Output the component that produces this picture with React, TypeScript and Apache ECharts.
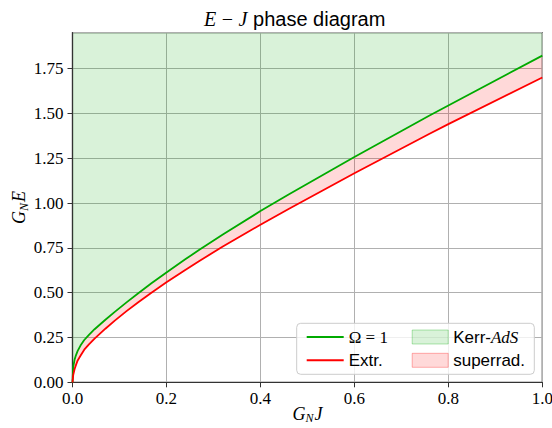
import React, { useEffect, useRef } from "react";
import * as echarts from "echarts";

// G_N J values (shared by both curves)
const J = [0, 0.0015, 0.0045, 0.0075, 0.011, 0.017, 0.025, 0.035, 0.047, 0.07, 0.09, 0.115, 0.14, 0.168, 0.2, 0.24, 0.27, 0.32, 0.4, 0.46, 0.6, 0.76, 0.8, 1.0];
// G_N E on the Omega = 1 curve
const omegaOne = [0, 0.085, 0.127, 0.152, 0.175, 0.205, 0.236, 0.265, 0.296, 0.349, 0.393, 0.446, 0.497, 0.552, 0.613, 0.686, 0.739, 0.824, 0.955, 1.048, 1.257, 1.488, 1.544, 1.822];
// G_N E on the extremal curve
const extremal = [0, 0.04, 0.074, 0.097, 0.122, 0.148, 0.182, 0.212, 0.244, 0.299, 0.344, 0.397, 0.447, 0.5, 0.558, 0.627, 0.677, 0.757, 0.879, 0.967, 1.166, 1.386, 1.44, 1.7];

const X_MIN = 0, X_MAX = 1, X_STEP = 0.2;
const Y_MIN = 0, Y_MAX = 1.95, Y_STEP = 0.25;

const SERIF = "Liberation Serif, Times New Roman, serif";
const SANS = "Liberation Sans, Arial, sans-serif";
const GREEN = "#00aa00";
const RED = "#ff0000";
const GREEN_FILL = "rgba(0,170,0,0.15)";
const RED_FILL = "rgba(255,0,0,0.15)";

export default function App() {
  const ref = useRef<HTMLDivElement>(null);
  useEffect(() => {
    const chart = echarts.init(ref.current!, null, { renderer: "svg" });
    const pts = (arr: number[]) => J.map((x, i) => [x, arr[i]]);
    const axisRich = {
      g: { fontFamily: SERIF, fontStyle: "italic", fontSize: 18, color: "#000" },
      n: { fontFamily: SERIF, fontStyle: "italic", fontSize: 12, color: "#000", padding: [9, 1, 0, 0] },
    };
    const option: any = {
      animation: false,
      backgroundColor: "#fff",
      textStyle: { fontFamily: SERIF },
      title: {
        text: "{m|E} {o|−} {m|J} {s|phase diagram}",
        left: 199,
        top: 4,
        textStyle: {
          fontSize: 20,
          fontWeight: "normal",
          fontFamily: SANS,
          rich: {
            m: { fontFamily: SERIF, fontStyle: "italic", fontWeight: "normal", fontSize: 20, color: "#000" },
            o: { fontFamily: SERIF, fontWeight: "normal", fontSize: 20, color: "#000" },
            s: { fontFamily: SANS, fontWeight: "normal", fontSize: 20, color: "#000" },
          },
        },
      },
      grid: {
        left: 72.5, right: 9.7, top: 32.7, bottom: 45.7,
        containLabel: false, outerBoundsMode: "none",
        show: true, borderColor: "#333", borderWidth: 1.2, backgroundColor: "transparent",
      },
      xAxis: {
        type: "value", min: X_MIN, max: X_MAX, interval: X_STEP,
        name: "{g|G}{n|N}{g|J}", nameLocation: "middle", nameGap: 21, nameMoveOverlap: false,
        nameTextStyle: { rich: axisRich },
        axisLine: { show: true, lineStyle: { color: "#333", width: 1.2 } },
        axisTick: { show: true, length: 5, lineStyle: { color: "#333" } },
        axisLabel: { formatter: (v: number) => v.toFixed(1), fontFamily: SERIF, fontSize: 17, color: "#000", margin: 8 },
        splitLine: { show: true, lineStyle: { color: "#b0b0b0", width: 1 } },
      },
      yAxis: {
        type: "value", min: Y_MIN, max: Y_MAX, interval: Y_STEP,
        name: "{g|G}{n|N}{g|E}", nameLocation: "middle", nameGap: 43, nameMoveOverlap: false,
        nameTextStyle: { rich: axisRich },
        axisLine: { show: true, lineStyle: { color: "#333", width: 1.2 } },
        axisTick: { show: true, length: 5, lineStyle: { color: "#333" } },
        axisLabel: { formatter: (v: number) => v.toFixed(2), fontFamily: SERIF, fontSize: 17, color: "#000", margin: 9, showMaxLabel: false },
        splitLine: { show: true, lineStyle: { color: "#b0b0b0", width: 1 } },
      },
      legend: [
        {
          data: [
            { name: "Ω = 1", icon: "rect", itemStyle: { color: GREEN, borderWidth: 0 } },
            { name: "Extr.", icon: "rect", itemStyle: { color: RED, borderWidth: 0 } },
          ],
          orient: "vertical", left: 301.7, top: 323, itemWidth: 37, itemHeight: 2, itemGap: 5.3,
          selectedMode: false, z: 20,
          formatter: (name: string) => (name === "Ω = 1" ? "{m|Ω = 1}" : `{s|${name}}`),
          textStyle: {
            fontSize: 17, lineHeight: 18,
            rich: {
              m: { fontFamily: SERIF, fontSize: 17, color: "#000", lineHeight: 18 },
              s: { fontFamily: SANS, fontSize: 17, color: "#000", lineHeight: 18 },
            },
          },
        },
        {
          data: [
            { name: "Kerr-AdS", icon: "rect", itemStyle: { color: GREEN_FILL, borderColor: "rgba(0,170,0,0.3)", borderWidth: 1 } },
            { name: "superrad.", icon: "rect", itemStyle: { color: RED_FILL, borderColor: "rgba(255,0,0,0.3)", borderWidth: 1 } },
          ],
          orient: "vertical", left: 406.7, top: 323, itemWidth: 36, itemHeight: 14, itemGap: 5.3,
          selectedMode: false, z: 20,
          formatter: (name: string) => (name === "Kerr-AdS" ? "{s|Kerr-}{i|AdS}" : `{s|${name}}`),
          textStyle: {
            fontSize: 17, lineHeight: 18,
            rich: {
              i: { fontFamily: SERIF, fontStyle: "italic", fontSize: 17, color: "#000", lineHeight: 18 },
              s: { fontFamily: SANS, fontSize: 17, color: "#000", lineHeight: 18 },
            },
          },
        },
      ],
      graphic: [
        {
          type: "rect", z: 15,
          shape: { x: 296.7, y: 323.3, width: 237.6, height: 51, r: 4 },
          style: { fill: "rgba(255,255,255,0.8)", stroke: "#cccccc", lineWidth: 1 },
        },
      ],
      series: [
        {
          name: "Kerr-AdS", type: "line", data: pts(omegaOne), symbol: "none", silent: true,
          lineStyle: { width: 0 }, itemStyle: { color: GREEN_FILL },
          areaStyle: { origin: "end", color: GREEN_FILL, opacity: 1 }, z: 1,
        },
        {
          name: "superrad.", type: "custom", coordinateSystem: "cartesian2d", silent: true,
          data: [[J[0], extremal[0]]], itemStyle: { color: RED_FILL }, z: 1,
          renderItem: (_params: any, api: any) => {
            const upper = J.map((x, i) => api.coord([x, omegaOne[i]]));
            const lower = J.map((x, i) => api.coord([x, extremal[i]])).reverse();
            return { type: "polygon", shape: { points: upper.concat(lower) }, style: { fill: RED_FILL } };
          },
        },
        {
          name: "Ω = 1", type: "line", data: pts(omegaOne), symbol: "none", showSymbol: false,
          lineStyle: { color: GREEN, width: 1.8 }, itemStyle: { color: GREEN }, z: 3,
        },
        {
          name: "Extr.", type: "line", data: pts(extremal), symbol: "none", showSymbol: false,
          lineStyle: { color: RED, width: 1.8 }, itemStyle: { color: RED }, z: 4,
        },
      ],
    };
    chart.setOption(option);
    return () => chart.dispose();
  }, []);
  return (
    <div
      ref={ref}
      style={{ position: "fixed", left: 0, top: 0, width: 552, height: 428, background: "#fff" }}
    />
  );
}
